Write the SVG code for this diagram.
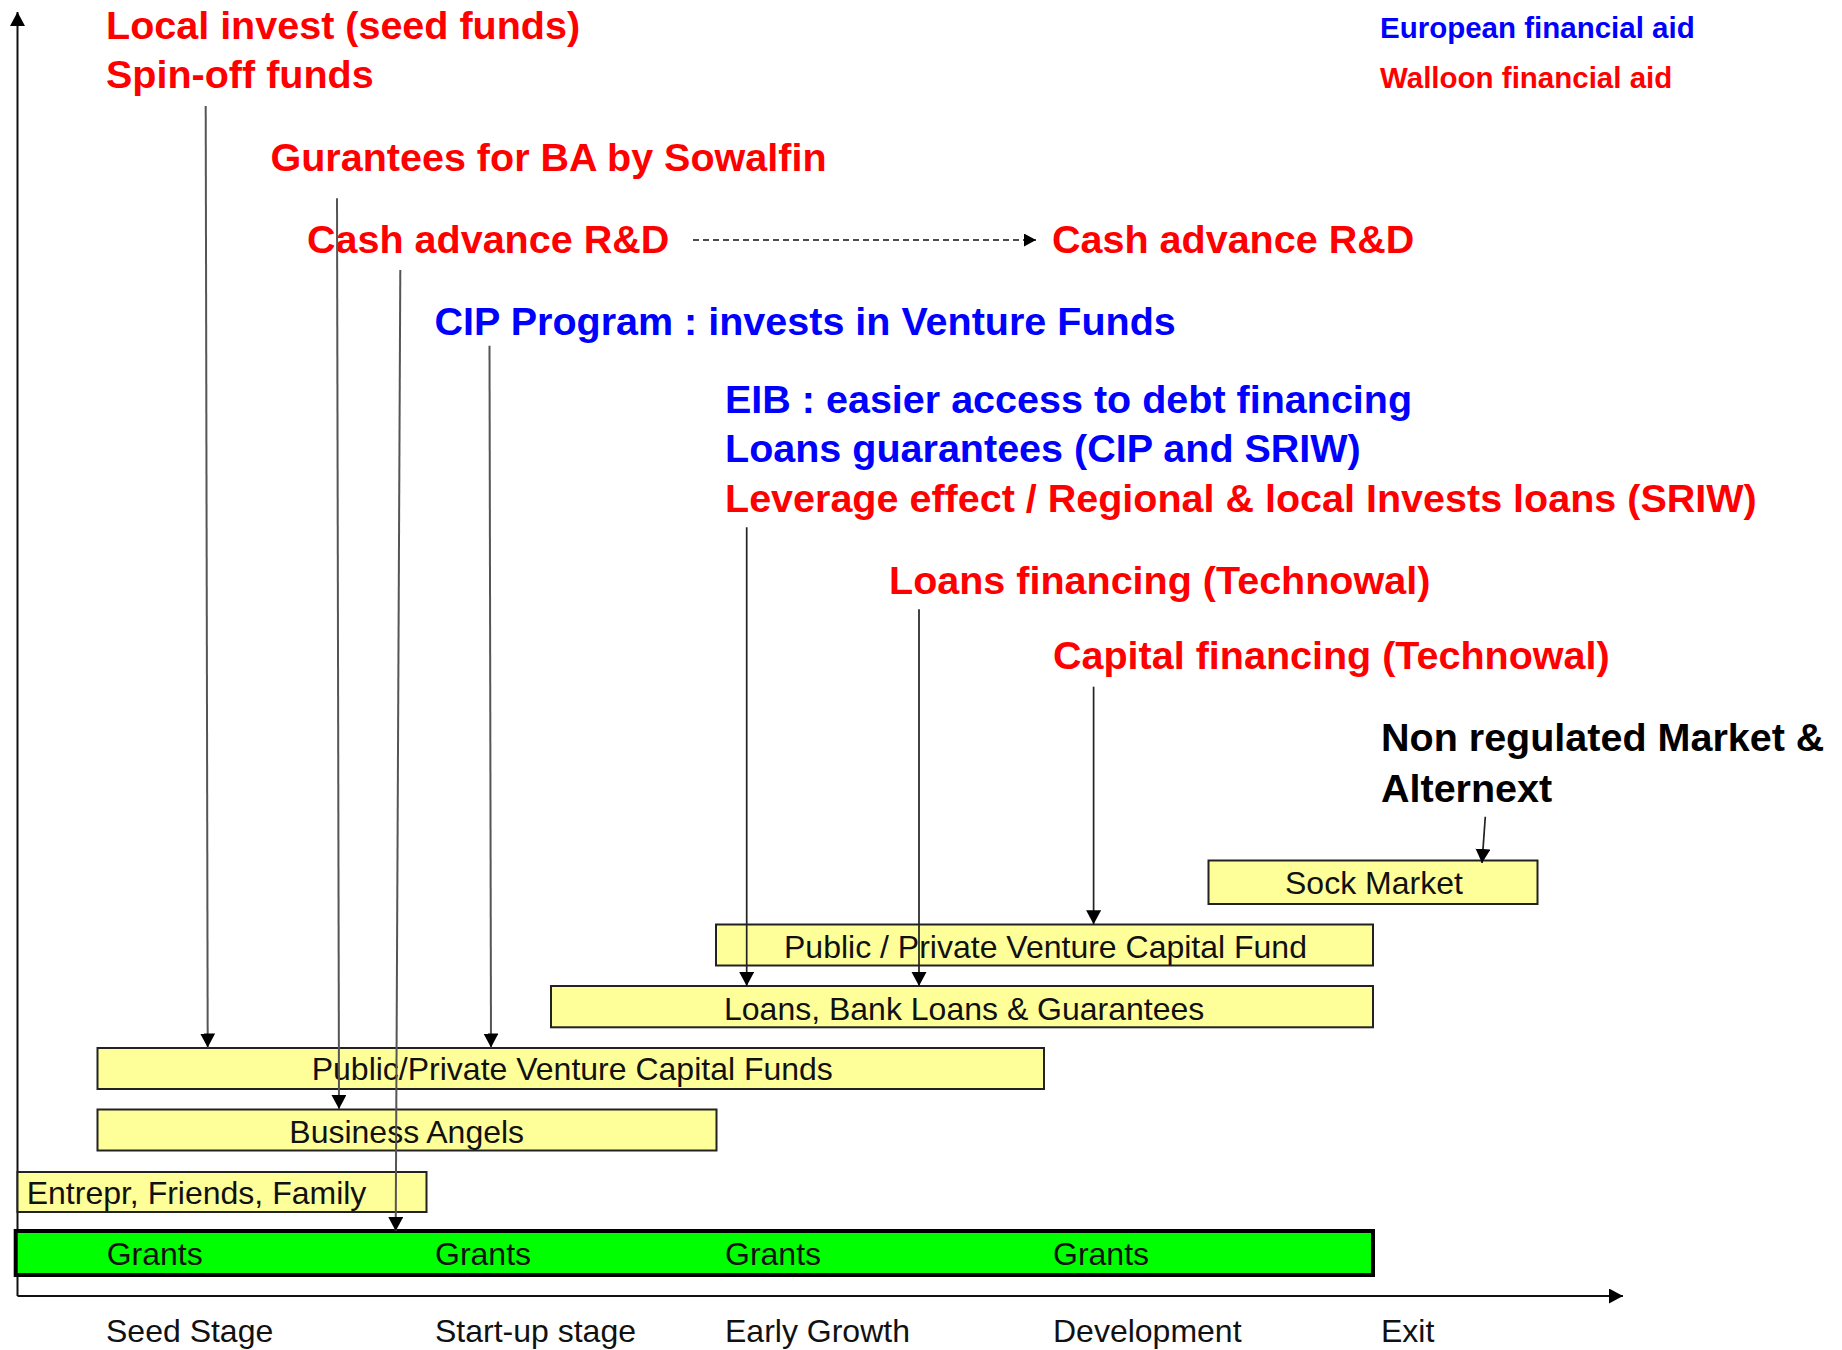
<svg xmlns="http://www.w3.org/2000/svg" width="1842" height="1350" viewBox="0 0 1842 1350">
<style>
text{font-family:"Liberation Sans",Arial,sans-serif}
.lbl{font-size:39.5px;font-weight:bold}
.red{fill:#FF0000}
.blue{fill:#0000FF}
.blk{fill:#000}
.leg{font-size:29.5px;font-weight:bold}
.box{fill:#FFFF99;stroke:#222;stroke-width:2}
.grants{fill:#00FF00;stroke:#000;stroke-width:4}
.bt{font-size:32px;fill:#111}
.axis{stroke:#111;stroke-width:2;fill:none}
.conn{stroke:#555;stroke-width:2;fill:none}
.conn2{stroke:#222;stroke-width:1.7;fill:none}
.dash{stroke:#111;stroke-width:1.7;stroke-dasharray:6 4;fill:none}
</style>
<defs>
<marker id="ah" markerUnits="userSpaceOnUse" markerWidth="16" markerHeight="16" refX="14" refY="7.5" orient="auto">
<path d="M0,0 L14,7.5 L0,15 z" fill="#000"/>
</marker>
<marker id="ahs" markerUnits="userSpaceOnUse" markerWidth="14" markerHeight="14" refX="12" refY="6.5" orient="auto">
<path d="M0,0 L12,6.5 L0,13 z" fill="#000"/>
</marker>
</defs>

<g id="axes">
<path class="axis" d="M17.5,1296 L17.5,12" marker-end="url(#ah)"/>
<path class="axis" d="M17.5,1296 L1623,1296" marker-end="url(#ah)"/>
</g>

<g id="legend">
<text class="leg blue" x="1380" y="38.3">European financial aid</text>
<text class="leg red" x="1380" y="88.3">Walloon financial aid</text>
</g>

<g id="label-local">
<text class="lbl red" x="106" y="39">Local invest (seed funds)</text>
<text class="lbl red" x="106" y="88">Spin-off funds</text>
</g>
<g id="label-gurantees"><text class="lbl red" x="270.5" y="170.5">Gurantees for BA by Sowalfin</text></g>
<g id="label-cash1"><text class="lbl red" x="307" y="253">Cash advance R&amp;D</text></g>
<g id="label-cash2"><text class="lbl red" x="1052" y="253">Cash advance R&amp;D</text></g>
<g id="label-cip"><text class="lbl blue" x="434.6" y="335">CIP Program : invests in Venture Funds</text></g>
<g id="label-eib">
<text class="lbl blue" x="725" y="412.7">EIB : easier access to debt financing</text>
<text class="lbl blue" x="725" y="461.7">Loans guarantees (CIP and SRIW)</text>
<text class="lbl red" x="725" y="511.7">Leverage effect / Regional &amp; local Invests loans (SRIW)</text>
</g>
<g id="label-loansfin"><text class="lbl red" x="889" y="594">Loans financing (Technowal)</text></g>
<g id="label-capfin"><text class="lbl red" x="1053" y="669">Capital financing (Technowal)</text></g>
<g id="label-market">
<text class="lbl blk" x="1381" y="750.5">Non regulated Market &amp;</text>
<text class="lbl blk" x="1381" y="801.5">Alternext</text>
</g>

<g id="node-sock">
<rect class="box" x="1208.5" y="860.5" width="329" height="43.5"/>
<text class="bt" x="1285" y="894.3">Sock Market</text>
</g>
<g id="node-ppvcf">
<rect class="box" x="716" y="924.5" width="657" height="41"/>
<text class="bt" x="784" y="957.7">Public / Private Venture Capital Fund</text>
</g>
<g id="node-loans">
<rect class="box" x="551" y="986" width="822" height="41.3"/>
<text class="bt" x="724" y="1020">Loans, Bank Loans &amp; Guarantees</text>
</g>
<g id="node-vcfunds">
<rect class="box" x="97.5" y="1048" width="946.5" height="41"/>
<text class="bt" x="311.7" y="1080">Public/Private Venture Capital Funds</text>
</g>
<g id="node-ba">
<rect class="box" x="97.5" y="1109.5" width="619" height="41"/>
<text class="bt" x="289.3" y="1142.7">Business Angels</text>
</g>
<g id="node-eff">
<rect class="box" x="17.5" y="1172" width="409" height="40"/>
<text class="bt" x="26.7" y="1204">Entrepr, Friends, Family</text>
</g>
<g id="node-grants">
<rect class="grants" x="15.7" y="1231" width="1357.3" height="44"/>
<text class="bt" x="106.7" y="1265">Grants</text>
<text class="bt" x="435" y="1265">Grants</text>
<text class="bt" x="725" y="1265">Grants</text>
<text class="bt" x="1053" y="1265">Grants</text>
</g>

<g id="stages">
<text class="bt" x="106" y="1342">Seed Stage</text>
<text class="bt" x="435" y="1342">Start-up stage</text>
<text class="bt" x="725" y="1342">Early Growth</text>
<text class="bt" x="1053" y="1342">Development</text>
<text class="bt" x="1381" y="1342">Exit</text>
</g>

<g id="connectors">
<path class="conn" d="M205.7,106 L207.7,1047.5" marker-end="url(#ah)"/>
<path class="conn" d="M337,198.3 L339,1109" marker-end="url(#ah)"/>
<path class="conn" d="M400.3,270 L395.7,1231" marker-end="url(#ah)"/>
<path class="conn" d="M489.5,345.7 L491,1047.5" marker-end="url(#ah)"/>
<path class="conn2" d="M746.7,527.3 L746.7,986" marker-end="url(#ah)"/>
<path class="conn2" d="M919,609.3 L919,986" marker-end="url(#ah)"/>
<path class="conn2" d="M1093.6,686.7 L1093.6,924.3" marker-end="url(#ah)"/>
<path class="conn2" d="M1485.3,816.7 L1482,863" marker-end="url(#ah)"/>
<path class="dash" d="M693,240 L1036,240" marker-end="url(#ahs)"/>
</g>
</svg>
